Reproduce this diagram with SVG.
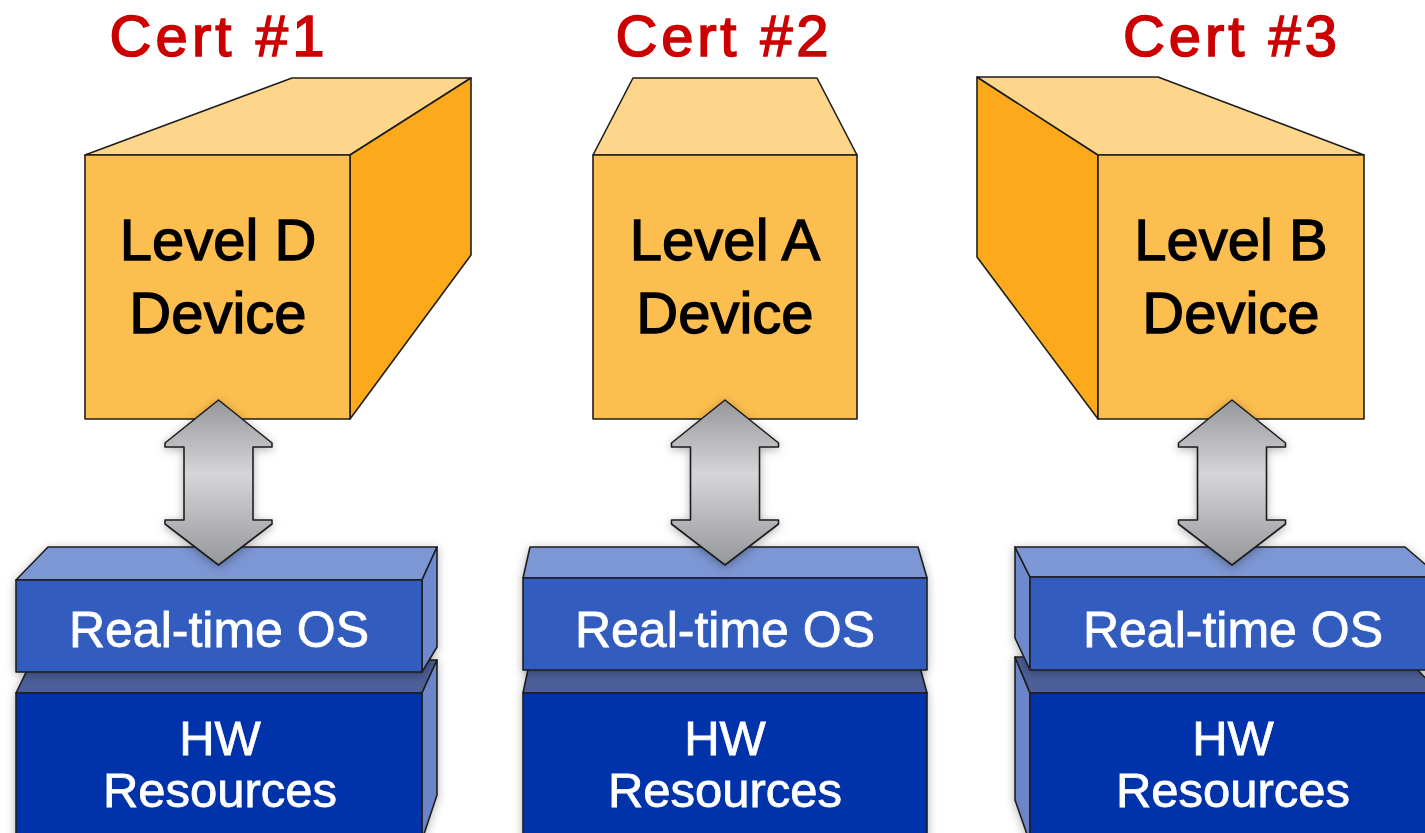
<svg xmlns="http://www.w3.org/2000/svg" xmlns:xlink="http://www.w3.org/1999/xlink" width="1425" height="833" viewBox="0 0 1425 833">
<style>
.ln{stroke:#1e1e1e;stroke-width:1.6;stroke-linejoin:round}
.ofront{fill:#fdbe50}
.otop{fill:#fdd68b}
.oside{fill:#fca91c}
.bfront{fill:#335bbe}
.btop{fill:#7d97d4}
.bside{fill:#6e89cd}
.hfront{fill:#0131a9}
.htop{fill:#4b5e98}
.hside{fill:#6c85c9}
.cert{font-family:"Liberation Sans",Arial,sans-serif;font-size:58px;fill:#cc0000;stroke:#cc0000;stroke-width:1.6;text-anchor:middle}
.dev{font-family:"Liberation Sans",Arial,sans-serif;font-size:58px;fill:#000;stroke:#000;stroke-width:1.3;text-anchor:middle}
.os{font-family:"Liberation Sans",Arial,sans-serif;font-size:50px;fill:#fff;stroke:#fff;stroke-width:0.8;text-anchor:middle}
.hw{font-family:"Liberation Sans",Arial,sans-serif;font-size:49px;fill:#fff;stroke:#fff;stroke-width:0.8;text-anchor:middle}
</style>
<defs>
<linearGradient id="ag" x1="0" y1="0" x2="0" y2="1">
<stop offset="0" stop-color="#96979b"/>
<stop offset="0.45" stop-color="#d6d6da"/>
<stop offset="1" stop-color="#96979b"/>
</linearGradient>
<filter id="sh" x="-10%" y="-10%" width="120%" height="130%">
<feDropShadow dx="0" dy="2" stdDeviation="5" flood-color="#000" flood-opacity="0.3"/>
</filter>
<path id="arrow" d="M0,400 L53.5,443 L53.5,447 L34.5,447 L34.5,520 L53.5,520 L53.5,524 L0,565 L-53.5,524 L-53.5,520 L-34.5,520 L-34.5,447 L-53.5,447 L-53.5,443 Z"/>
</defs>
<rect width="1425" height="833" fill="#fff"/>

<g id="cert1">
<text class="cert" x="217" y="56" textLength="215" lengthAdjust="spacing">Cert #1</text>
</g>
<g id="cert2">
<text class="cert" x="722" y="56" textLength="213" lengthAdjust="spacing">Cert #2</text>
</g>
<g id="cert3">
<text class="cert" x="1230" y="56" textLength="214" lengthAdjust="spacing">Cert #3</text>
</g>

<g id="hw1" filter="url(#sh)">
<polygon class="htop ln" points="16,693 32,660 437,660 422,693"/>
<polygon class="hside ln" points="422,693 437,660 437,795 422,840"/>
<rect class="hfront ln" x="16" y="693" width="406" height="150"/>
<text class="hw" x="220" y="755">HW</text>
<text class="hw" x="220" y="807">Resources</text>
</g>
<g id="os1" filter="url(#sh)">
<polygon class="btop ln" points="16,580 48,547 437,547 422,580"/>
<polygon class="bside ln" points="422,580 437,547 437,647 422,672"/>
<rect class="bfront ln" x="16" y="580" width="406" height="92"/>
<text class="os" x="219" y="647">Real-time OS</text>
</g>

<g id="hw2" filter="url(#sh)">
<polygon class="htop ln" points="523,693 530,660 918,660 927,693"/>
<rect class="hfront ln" x="523" y="693" width="404" height="150"/>
<text class="hw" x="725" y="755">HW</text>
<text class="hw" x="725" y="807">Resources</text>
</g>
<g id="os2" filter="url(#sh)">
<polygon class="btop ln" points="523,578 530,547 918,547 927,578"/>
<rect class="bfront ln" x="523" y="578" width="404" height="92"/>
<text class="os" x="725" y="647">Real-time OS</text>
</g>

<g id="hw3" filter="url(#sh)">
<polygon class="hside ln" points="1015,657 1030,693 1030,843 1015,800"/>
<polygon class="htop ln" points="1015,657 1405,657 1440,693 1030,693"/>
<rect class="hfront ln" x="1030" y="693" width="410" height="150"/>
<text class="hw" x="1233" y="755">HW</text>
<text class="hw" x="1233" y="807">Resources</text>
</g>
<g id="os3" filter="url(#sh)">
<polygon class="bside ln" points="1015,547 1030,577 1030,670 1015,638"/>
<polygon class="btop ln" points="1015,547 1405,547 1440,577 1030,577"/>
<rect class="bfront ln" x="1030" y="577" width="410" height="93"/>
<text class="os" x="1233" y="647">Real-time OS</text>
</g>

<g id="device1">
<polygon class="otop ln" points="85,155 292,78 471,78 350,155"/>
<polygon class="oside ln" points="350,155 471,78 471,255 350,419"/>
<rect class="ofront ln" x="85" y="155" width="265" height="264"/>
<text class="dev" x="218" y="260">Level D</text>
<text class="dev" x="218" y="333">Device</text>
</g>
<g id="device2">
<polygon class="otop ln" points="593,155 633,78 817,78 857,155"/>
<rect class="ofront ln" x="593" y="155" width="264" height="264"/>
<text class="dev" x="725" y="260">Level A</text>
<text class="dev" x="725" y="333">Device</text>
</g>
<g id="device3">
<polygon class="oside ln" points="977,77 1098,155 1098,419 977,257"/>
<polygon class="otop ln" points="977,77 1158,77 1364,155 1098,155"/>
<rect class="ofront ln" x="1098" y="155" width="266" height="264"/>
<text class="dev" x="1231" y="260">Level B</text>
<text class="dev" x="1231" y="333">Device</text>
</g>

<g id="connectors" filter="url(#sh)">
<use xlink:href="#arrow" href="#arrow" x="218.5" fill="url(#ag)" class="ln"/>
<use xlink:href="#arrow" href="#arrow" x="725" fill="url(#ag)" class="ln"/>
<use xlink:href="#arrow" href="#arrow" x="1232" fill="url(#ag)" class="ln"/>
</g>
</svg>
